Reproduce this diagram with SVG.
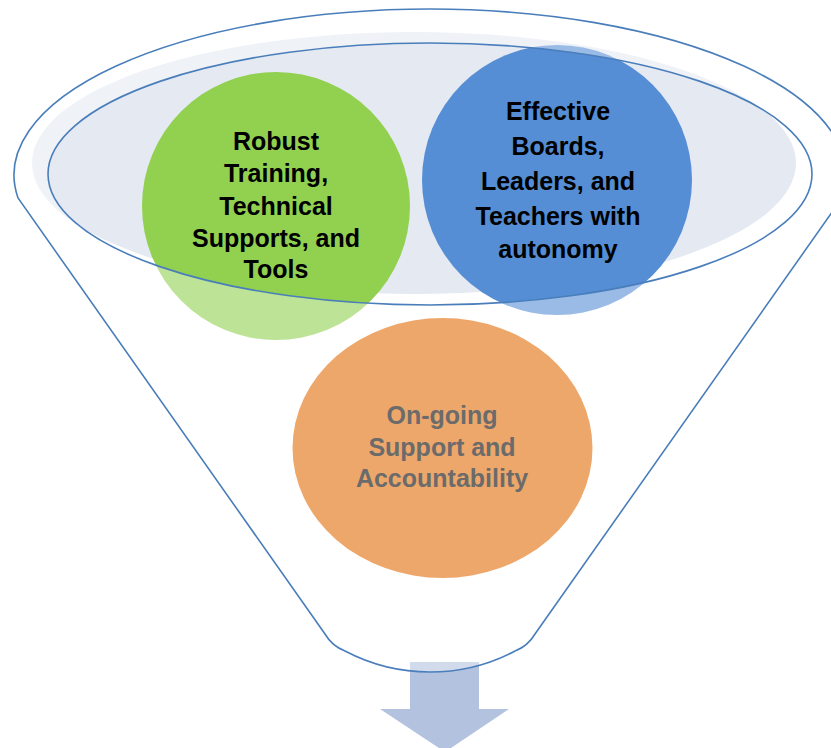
<svg xmlns="http://www.w3.org/2000/svg" width="831" height="748" viewBox="0 0 831 748">
  <style>
    .lbl { font-family: "Liberation Sans", Arial, sans-serif; font-weight: bold; font-size: 25px; text-anchor: middle; }
    .dark { fill: #000000; }
    .gray { fill: #6b6b6b; }
    .edge { fill: none; stroke: #4a7ebb; stroke-width: 1.6; }
  </style>
  <rect width="831" height="748" fill="#ffffff"/>
  <g id="funnel-back">
    <ellipse cx="414" cy="163" rx="382" ry="131" fill="#e4e9f2"/>
  </g>
  <g id="node-green">
    <circle cx="276" cy="206" r="134" fill="#92d050"/>
  </g>
  <g id="node-blue">
    <circle cx="557" cy="180" r="135" fill="#558ed5"/>
  </g>
  <g id="connectors">
    <polygon points="410,662 479,662 479,709 509,709 445,752 380,709 410,709" fill="#b3c3df"/>
  </g>
  <g id="funnel">
    <path fill="#ffffff" fill-opacity="0.4" fill-rule="evenodd" d="M 18,198 A 416 166 0 1 1 842,198 L 535,634 Q 528,646 515,651 Q 475,672 430,672 Q 385,672 345,651 Q 332,646 325,634 Z M 48,174 A 382 131 0 1 0 812,174 A 382 131 0 1 0 48,174 Z"/>
    <path class="edge" d="M 18,198 A 416 166 0 1 1 842,198 L 535,634 Q 528,646 515,651 Q 475,672 430,672 Q 385,672 345,651 Q 332,646 325,634 Z"/>
    <ellipse class="edge" cx="430" cy="174" rx="382" ry="131"/>
  </g>
  <g id="node-orange">
    <ellipse cx="442.5" cy="448" rx="150" ry="130" fill="#eea76a"/>
    <text class="lbl gray" x="442" y="424">On-going</text>
    <text class="lbl gray" x="442" y="456">Support and</text>
    <text class="lbl gray" x="442" y="487">Accountability</text>
  </g>
  <g id="node-green-text">
    <text class="lbl dark" x="276" y="150">Robust</text>
    <text class="lbl dark" x="276" y="182">Training,</text>
    <text class="lbl dark" x="276" y="215">Technical</text>
    <text class="lbl dark" x="276" y="247">Supports, and</text>
    <text class="lbl dark" x="276" y="278">Tools</text>
  </g>
  <g id="node-blue-text">
    <text class="lbl dark" x="558" y="120">Effective</text>
    <text class="lbl dark" x="558" y="155">Boards,</text>
    <text class="lbl dark" x="558" y="190">Leaders, and</text>
    <text class="lbl dark" x="558" y="225">Teachers with</text>
    <text class="lbl dark" x="558" y="258">autonomy</text>
  </g>
</svg>
